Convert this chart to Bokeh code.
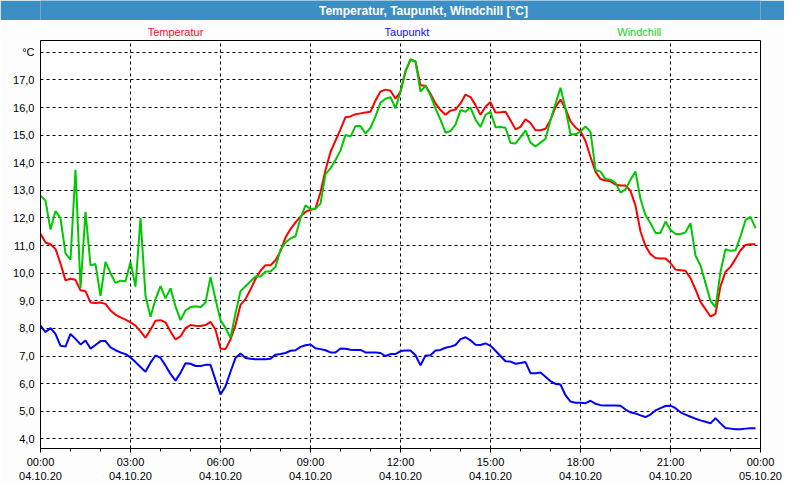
from bokeh.plotting import figure
from bokeh.layouts import column
from bokeh.models import Range1d, FixedTicker
from bokeh.core.properties import value
from bokeh.embed import file_html
from bokeh.resources import INLINE

# ---------------- data ----------------
title_text = "Temperatur, Taupunkt, Windchill [°C]"
series_names = ["Temperatur", "Taupunkt", "Windchill"]
series_colors = ["#FF0000", "#0000FF", "#00C800"]
legend_colors = ["#FF0A2A", "#1010FF", "#20D020"]

# sample times: one reading every 10 minutes, 04.10.20 00:00 .. 23:50
minutes = list(range(0, 1440, 10))

temperatur = [
    11.43, 11.11, 11.05, 10.88, 10.35, 9.74, 9.80, 9.76, 9.38, 9.35,
    8.94, 8.92, 8.94, 8.89, 8.65, 8.50, 8.40, 8.32, 8.22, 8.10,
    7.89, 7.66, 7.95, 8.28, 8.30, 8.22, 7.89, 7.60, 7.71, 8.01,
    8.12, 8.10, 8.09, 8.12, 8.24, 7.95, 7.27, 7.25, 7.60, 8.12,
    8.85, 9.06, 9.41, 9.79, 10.09, 10.29, 10.29, 10.47, 10.80, 11.29,
    11.60, 11.84, 12.05, 12.22, 12.30, 12.34, 12.93, 13.74, 14.39, 14.80,
    15.21, 15.65, 15.68, 15.76, 15.79, 15.82, 15.85, 16.26, 16.58, 16.65,
    16.61, 16.32, 16.58, 17.32, 17.73, 17.67, 16.81, 16.79, 16.50, 16.15,
    15.91, 15.74, 15.89, 15.93, 16.15, 16.47, 16.38, 16.09, 15.74, 16.03,
    16.20, 15.82, 15.83, 15.85, 15.54, 15.21, 15.30, 15.58, 15.44, 15.18,
    15.18, 15.23, 15.55, 16.02, 16.29, 15.96, 15.50, 15.28, 15.14, 14.79,
    14.21, 13.68, 13.41, 13.36, 13.33, 13.21, 13.18, 13.18, 12.98, 12.45,
    11.51, 10.99, 10.69, 10.55, 10.53, 10.53, 10.37, 10.13, 10.11, 10.09,
    9.82, 9.41, 8.96, 8.70, 8.43, 8.53, 9.53, 10.05, 10.23, 10.52,
    10.83, 11.02, 11.05, 11.05,
]

taupunkt = [
    8.10, 7.87, 8.01, 7.80, 7.37, 7.34, 7.80, 7.62, 7.42, 7.56,
    7.27, 7.40, 7.54, 7.54, 7.31, 7.21, 7.13, 7.07, 6.95, 6.78,
    6.60, 6.43, 6.76, 7.02, 6.93, 6.66, 6.35, 6.11, 6.39, 6.74,
    6.72, 6.64, 6.64, 6.68, 6.68, 6.13, 5.61, 5.90, 6.43, 6.93,
    7.09, 6.93, 6.90, 6.88, 6.88, 6.88, 6.90, 7.05, 7.07, 7.11,
    7.19, 7.21, 7.33, 7.39, 7.42, 7.28, 7.25, 7.21, 7.13, 7.13,
    7.27, 7.26, 7.23, 7.22, 7.22, 7.13, 7.13, 7.13, 7.11, 7.00,
    7.07, 7.07, 7.18, 7.20, 7.20, 7.03, 6.66, 7.02, 7.03, 7.20,
    7.22, 7.30, 7.34, 7.40, 7.61, 7.68, 7.57, 7.41, 7.40, 7.46,
    7.37, 7.19, 7.00, 6.81, 6.80, 6.72, 6.75, 6.78, 6.38, 6.38,
    6.40, 6.25, 6.09, 5.99, 5.97, 5.58, 5.35, 5.31, 5.31, 5.29,
    5.38, 5.27, 5.22, 5.21, 5.21, 5.21, 5.20, 5.06, 4.96, 4.92,
    4.85, 4.79, 4.88, 5.03, 5.11, 5.19, 5.20, 5.11, 4.96, 4.88,
    4.80, 4.73, 4.67, 4.62, 4.56, 4.75, 4.56, 4.39, 4.37, 4.35,
    4.35, 4.37, 4.38, 4.38,
]

windchill = [
    12.81, 12.63, 11.58, 12.25, 11.99, 10.72, 10.49, 13.75, 9.47, 12.22,
    10.29, 10.33, 9.18, 10.41, 10.00, 9.65, 9.73, 9.71, 10.41, 9.51,
    12.01, 9.18, 8.42, 9.06, 9.53, 9.09, 9.45, 8.80, 8.30, 8.65,
    8.77, 8.80, 8.77, 8.94, 9.86, 9.06, 8.30, 8.01, 7.66, 8.54,
    9.35, 9.53, 9.71, 9.88, 9.88, 10.06, 10.06, 10.23, 10.85, 11.11,
    11.26, 11.34, 11.99, 12.46, 12.32, 12.34, 12.52, 13.59, 13.80, 14.10,
    14.45, 15.01, 14.95, 15.33, 15.33, 15.06, 15.27, 15.68, 16.18, 16.32,
    16.38, 15.97, 16.58, 17.32, 17.75, 17.67, 16.58, 16.79, 16.44, 15.97,
    15.56, 15.09, 15.15, 15.38, 15.91, 15.85, 16.00, 15.56, 15.30, 15.74,
    15.85, 15.29, 15.30, 15.27, 14.72, 14.70, 14.93, 15.17, 14.73, 14.59,
    14.73, 14.87, 15.55, 16.14, 16.72, 15.96, 15.03, 15.03, 15.14, 15.32,
    15.12, 13.74, 13.68, 13.41, 13.39, 13.27, 12.92, 13.04, 13.39, 13.68,
    12.69, 12.10, 11.81, 11.46, 11.46, 11.87, 11.57, 11.42, 11.42, 11.48,
    11.81, 10.64, 10.28, 9.64, 9.00, 8.76, 10.05, 10.87, 10.81, 10.83,
    11.34, 11.92, 12.04, 11.63,
]

x_tick_hours = [0, 3, 6, 9, 12, 15, 18, 21, 24]
x_tick_labels = [
    "00:00\n04.10.20", "03:00\n04.10.20", "06:00\n04.10.20",
    "09:00\n04.10.20", "12:00\n04.10.20", "15:00\n04.10.20",
    "18:00\n04.10.20", "21:00\n04.10.20", "00:00\n05.10.20",
]
x_minor_hours = list(range(0, 25))
y_ticks = [4, 5, 6, 7, 8, 9, 10, 11, 12, 13, 14, 15, 16, 17, 18]
y_tick_labels = ["4,0", "5,0", "6,0", "7,0", "8,0", "9,0", "10,0", "11,0",
                 "12,0", "13,0", "14,0", "15,0", "16,0", "17,0", "°C"]

# ---------------- style ----------------
FONT = "Liberation Sans"
W = 784
BAR_BLUE = "#3C8FC4"
BG = "#FCFDFC"

hours = [m / 60.0 for m in minutes]

# title bar
tb = figure(width=W, height=20, output_backend="svg", toolbar_location=None,
            x_range=Range1d(0, W), y_range=Range1d(0, 20),
            x_axis_type=None, y_axis_type=None, min_border=0)
tb.grid.visible = False
tb.outline_line_color = None
tb.background_fill_color = BAR_BLUE
tb.border_fill_color = BAR_BLUE
tb.text(x=[417], y=[10], text=[title_text], text_color="white",
        text_font=value(FONT), text_font_size="12px", text_font_style="bold",
        text_align="center", text_baseline="middle")

# legend strip
lg = figure(width=W, height=18, output_backend="svg", toolbar_location=None,
            x_range=Range1d(0, W), y_range=Range1d(0, 18),
            x_axis_type=None, y_axis_type=None, min_border=0)
lg.grid.visible = False
lg.outline_line_color = None
lg.background_fill_color = BG
lg.border_fill_color = BG
lg.text(x=[147, 399, 652], y=[7, 7, 7], text=series_names,
        text_color=legend_colors, text_font=value(FONT), text_font_size="11px",
        text_align="center", text_baseline="middle")

# main chart
p = figure(width=W, height=446, output_backend="svg", toolbar_location=None,
           x_range=Range1d(0, 24), y_range=Range1d(3.65, 18.43),
           min_border_left=40, min_border_right=24,
           min_border_top=2, min_border_bottom=33)
p.background_fill_color = "white"
p.border_fill_color = BG
p.outline_line_color = "black"
p.outline_line_width = 1

p.line(hours, taupunkt, line_color=series_colors[1], line_width=2)
p.line(hours, temperatur, line_color=series_colors[0], line_width=2)
p.line(hours, windchill, line_color=series_colors[2], line_width=2)

p.xaxis.ticker = FixedTicker(ticks=x_tick_hours, minor_ticks=x_minor_hours)
p.xaxis.major_label_overrides = {h: lab for h, lab in zip(x_tick_hours, x_tick_labels)}
p.yaxis.ticker = FixedTicker(ticks=y_ticks)
p.yaxis.major_label_overrides = {t: lab for t, lab in zip(y_ticks, y_tick_labels)}

for ax in (p.xaxis[0], p.yaxis[0]):
    ax.axis_line_color = "black"
    ax.axis_line_width = 1
    ax.major_label_text_font = FONT
    ax.major_label_text_font_size = "11px"
    ax.major_label_text_color = "black"
    ax.major_tick_in = 0
    ax.minor_tick_in = 0

p.xaxis.major_tick_out = 4
p.xaxis.minor_tick_out = 3
p.xaxis.major_tick_line_color = "black"
p.xaxis.minor_tick_line_color = "black"
p.xaxis.major_label_standoff = 3
p.yaxis.major_tick_out = 0
p.yaxis.minor_tick_out = 0
p.yaxis.major_tick_line_color = None
p.yaxis.minor_tick_line_color = None
p.yaxis.major_label_standoff = 6

for g in (p.xgrid[0], p.ygrid[0]):
    g.grid_line_color = "black"
    g.grid_line_dash = "3 3"
    g.grid_line_width = 1
p.xgrid.ticker = FixedTicker(ticks=x_tick_hours)
p.ygrid.ticker = FixedTicker(ticks=y_ticks)

layout = column(tb, lg, p, spacing=0)
open("out.html", "w").write(file_html(layout, INLINE))
